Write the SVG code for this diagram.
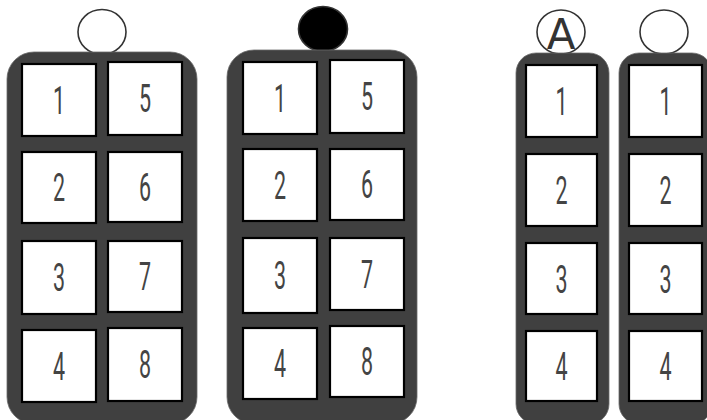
<svg xmlns="http://www.w3.org/2000/svg" width="707" height="420" viewBox="0 0 707 420">
<style>
.body{fill:#404040;stroke:#6a6a6a;stroke-width:0.8}
.box{fill:#ffffff;stroke:#000;stroke-width:2.2}
.num{font-family:Roboto,"DejaVu Sans",sans-serif;font-weight:400;font-size:39px;fill:#444;text-anchor:middle}
.ring{fill:#fff;stroke:#333;stroke-width:1.6}
</style>
<rect width="707" height="420" fill="#fff"/>
<g id="panel1">
<ellipse class="ring" cx="102" cy="32" rx="24" ry="22.5"/>
<rect class="body" x="7" y="52" width="190" height="372" rx="27"/>
<rect class="box" x="22" y="64" width="74" height="72"/>
<rect class="box" x="108" y="62" width="74" height="73"/>
<rect class="box" x="22" y="152" width="74" height="71"/>
<rect class="box" x="108" y="152" width="74" height="70"/>
<rect class="box" x="22" y="241" width="74" height="73"/>
<rect class="box" x="108" y="241" width="74" height="71"/>
<rect class="box" x="22" y="330" width="74" height="72"/>
<rect class="box" x="108" y="328" width="74" height="73"/>
<text class="num" transform="translate(59 114) scale(0.55 1)">1</text>
<text class="num" transform="translate(145 112) scale(0.55 1)">5</text>
<text class="num" transform="translate(59 201) scale(0.55 1)">2</text>
<text class="num" transform="translate(145 201) scale(0.55 1)">6</text>
<text class="num" transform="translate(59 291) scale(0.55 1)">3</text>
<text class="num" transform="translate(145 290) scale(0.55 1)">7</text>
<text class="num" transform="translate(59 380) scale(0.55 1)">4</text>
<text class="num" transform="translate(145 378) scale(0.55 1)">8</text>
</g>
<g id="panel2">
<ellipse cx="323" cy="29" rx="24.5" ry="22.5" fill="#000" stroke="#333" stroke-width="1.6"/>
<rect class="body" x="227" y="50" width="190" height="374" rx="27"/>
<rect class="box" x="243" y="62" width="74" height="72"/>
<rect class="box" x="330" y="60" width="74" height="73"/>
<rect class="box" x="243" y="149" width="74" height="72"/>
<rect class="box" x="330" y="149" width="74" height="71"/>
<rect class="box" x="243" y="238" width="74" height="75"/>
<rect class="box" x="330" y="238" width="74" height="72"/>
<rect class="box" x="243" y="328" width="74" height="71"/>
<rect class="box" x="330" y="326" width="74" height="71"/>
<text class="num" transform="translate(280 112) scale(0.55 1)">1</text>
<text class="num" transform="translate(367 110) scale(0.55 1)">5</text>
<text class="num" transform="translate(280 199) scale(0.55 1)">2</text>
<text class="num" transform="translate(367 198) scale(0.55 1)">6</text>
<text class="num" transform="translate(280 289) scale(0.55 1)">3</text>
<text class="num" transform="translate(367 288) scale(0.55 1)">7</text>
<text class="num" transform="translate(280 377) scale(0.55 1)">4</text>
<text class="num" transform="translate(367 375) scale(0.55 1)">8</text>
</g>
<g id="panel3">
<ellipse class="ring" cx="561" cy="32" rx="24" ry="22"/>
<text x="561" y="49" font-family="'DejaVu Sans',sans-serif" font-size="42" font-weight="normal" fill="#333" text-anchor="middle">A</text>
<rect class="body" x="516" y="53" width="93" height="371" rx="20"/>
<rect class="box" x="526" y="65" width="71" height="72"/>
<rect class="box" x="526" y="154" width="71" height="72"/>
<rect class="box" x="526" y="243" width="71" height="71"/>
<rect class="box" x="526" y="331" width="71" height="70"/>
<text class="num" transform="translate(561.5 115) scale(0.55 1)">1</text>
<text class="num" transform="translate(561.5 204) scale(0.55 1)">2</text>
<text class="num" transform="translate(561.5 293) scale(0.55 1)">3</text>
<text class="num" transform="translate(561.5 380) scale(0.55 1)">4</text>
</g>
<g id="panel4">
<ellipse class="ring" cx="664" cy="32" rx="24" ry="22"/>
<rect class="body" x="619" y="53" width="93" height="371" rx="20"/>
<rect class="box" x="629" y="65" width="73" height="72"/>
<rect class="box" x="629" y="154" width="73" height="72"/>
<rect class="box" x="629" y="243" width="73" height="71"/>
<rect class="box" x="629" y="331" width="73" height="70"/>
<text class="num" transform="translate(665.5 115) scale(0.55 1)">1</text>
<text class="num" transform="translate(665.5 204) scale(0.55 1)">2</text>
<text class="num" transform="translate(665.5 293) scale(0.55 1)">3</text>
<text class="num" transform="translate(665.5 380) scale(0.55 1)">4</text>
</g>
<g id="connectors"></g>
</svg>
